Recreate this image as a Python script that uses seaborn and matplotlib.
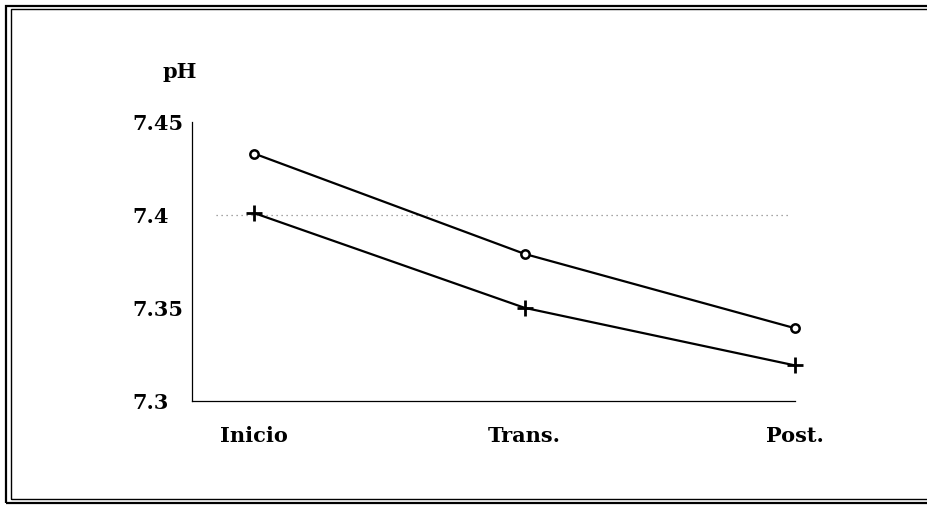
import matplotlib.pyplot as plt
import matplotlib.patches as mpatches
import numpy as np
import pandas as pd
import seaborn as sns

# data
etapas = ["Inicio", "Trans.", "Post."]
ph_circulo = [7.433, 7.379, 7.339]
ph_cruz = [7.401, 7.350, 7.319]
y_ticks = [7.3, 7.35, 7.4, 7.45]

sns.set_style("white")
plt.rcParams['font.family'] = ['DejaVu Serif']
plt.rcParams['font.weight'] = 'bold'
plt.rcParams['text.color'] = 'black'
plt.rcParams['xtick.color'] = 'black'
plt.rcParams['ytick.color'] = 'black'

df = pd.DataFrame({
    "x": list(range(len(etapas))) * 2,
    "ph": ph_circulo + ph_cruz,
    "serie": ["o"] * len(etapas) + ["+"] * len(etapas),
})

fig = plt.figure(figsize=(9.28, 5.08), dpi=100)
ax = fig.add_axes([0.207, 0.211, 0.650, 0.549])

# outer double frame
for (x0, y0, w, h, lw) in [(0.006, 0.010, 1.2, 0.978, 1.6), (0.012, 0.018, 1.2, 0.964, 1.0)]:
    fig.patches.append(mpatches.Rectangle((x0, y0), w, h, transform=fig.transFigure,
                                          fill=False, edgecolor="black", linewidth=lw))

ax.axhline(7.4, color="#888888", linestyle=(0, (1, 3)), linewidth=0.9, xmin=0.04, xmax=0.99)

sns.lineplot(data=df[df.serie == "o"], x="x", y="ph", ax=ax, color="black", linewidth=1.6,
             marker="o", markersize=6, markerfacecolor="white", markeredgecolor="black",
             markeredgewidth=1.8, clip_on=False)
sns.lineplot(data=df[df.serie == "+"], x="x", y="ph", ax=ax, color="black", linewidth=1.6,
             marker="+", markersize=12, markeredgecolor="black", markeredgewidth=2,
             clip_on=False)

ax.set_xlim(-0.229, 1.964)
ax.set_ylim(7.3, 7.45)
ax.set_xticks(range(len(etapas)))
ax.set_xticklabels(etapas, fontsize=15, fontweight="bold")
ax.set_yticks(y_ticks)
ax.set_yticklabels([f"{v:g}" for v in y_ticks], fontsize=15, fontweight="bold", ha="left")
ax.tick_params(axis="y", length=0, pad=43)
ax.tick_params(axis="x", length=0, pad=18)
ax.set_xlabel("")
ax.set_ylabel("")

for s in ["top", "right"]:
    ax.spines[s].set_visible(False)
ax.spines["left"].set_linestyle((0, (4, 1)))
ax.spines["left"].set_linewidth(0.9)
ax.spines["bottom"].set_linewidth(0.9)
ax.spines["left"].set_color("black")
ax.spines["bottom"].set_color("black")

ax.text(-0.02, 1.18, "pH", transform=ax.transAxes, fontsize=15, fontweight="bold",
        ha="center", va="center")

fig.savefig("out.png", dpi=100)
